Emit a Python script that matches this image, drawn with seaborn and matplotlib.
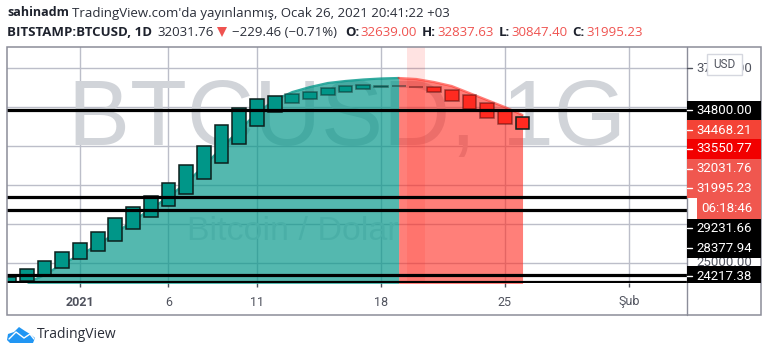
import numpy as np
import pandas as pd
import seaborn as sns
import matplotlib.pyplot as plt
from matplotlib.patches import Polygon, Rectangle, Circle

# days counted from 1 Jan 2021
days = [-4, -3, -2, -1, 0, 1, 2, 3, 4, 5, 6, 7, 8, 9, 10, 11, 12, 13, 14, 15, 16, 17, 18, 19, 20, 21, 22, 23, 24, 25]
opens = [23782, 23846, 24231, 24679, 25256, 25769, 26410, 27179, 27949, 28654, 29423, 30385, 31410, 32628, 33782,
         34680, 35256, 35513, 35769, 35962, 36154, 36300, 36320, 36310, 36282, 36090, 35769, 35256, 34808, 34359]
closes = [24103, 24615, 25128, 25705, 26282, 26987, 27885, 28590, 29295, 30128, 31282, 32500, 33846, 34936, 35513,
          35705, 35833, 35962, 36218, 36346, 36410, 36330, 36346, 36290, 35962, 35385, 34872, 34295, 33910, 33590]

area_green_days = [-3, -2, -1, 0, 1, 2, 3, 4, 5, 6, 7, 8, 9, 10, 11, 12, 13, 14, 15, 16, 17, 18]
area_green = [23718, 24231, 24936, 25513, 26154, 26923, 27692, 28461, 29231, 30128, 31218, 32372, 33526, 34615,
              35448, 35961, 36282, 36538, 36667, 36762, 36827, 36859]
area_red_days = [18, 19, 20, 21, 22, 23, 24, 25]
area_red = [36859, 36795, 36602, 36346, 35897, 35448, 34999, 34487]

level_lines = [34800.00, 29231.66, 28377.94, 24217.38, 23790]
grid_prices = [25000, 27500, 30000, 32500, 35000, 37500]
x_ticks = [0, 5, 10, 17, 24, 31]
x_labels = ['2021', '6', '11', '18', '25', 'Şub']

tag_labels = ['34800.00', '34468.21', '33550.77', '32031.76', '31995.23', '06:18:46',
              '29231.66', '28377.94', '24217.38']

GREEN = '#009688'
RED = '#ff2a20'
GRID = '#bcbec9'
FRAME = '#8b8d99'

sns.set_style('white')
plt.rcParams['font.family'] = ['Open Sans', 'DejaVu Sans']

fig = plt.figure(figsize=(7.68, 3.55), dpi=100)
ax = fig.add_axes([7 / 768, 1 - 283 / 355, 680 / 768, 236 / 355])
over = fig.add_axes([0, 0, 1, 1], zorder=5)
over.set_xlim(0, 768)
over.set_ylim(355, 0)
over.axis('off')
over.patch.set_alpha(0)

ax.set_xlim(-4.12, 34.29)
ax.set_ylim(23718, 38846)
ax.set_yticks(grid_prices)
ax.set_xticks(x_ticks)
ax.set_xticklabels(x_labels, fontsize=9, color='#50535e', family='Roboto')
ax.get_xticklabels()[0].set_fontweight('bold')
ax.set_yticklabels([])
ax.tick_params(axis='x', length=3, width=1, color='#50535e', pad=6, bottom=True)
ax.grid(True, color=GRID, lw=1)
ax.set_axisbelow(True)
for s in ax.spines.values():
    s.set_visible(False)

# watermarks
ax.text(0.5, 0.685, 'BTCUSD, 1G', transform=ax.transAxes, ha='center', va='center', fontsize=67,
        color='#d1d4d9', family='Liberation Sans', zorder=1)
ax.text(0.42, 0.22, 'Bitcoin / Dolar', transform=ax.transAxes, ha='center', va='center', fontsize=24.5,
        color='#e2e4e8', family='Liberation Sans', zorder=1)
ax.axvspan(18.5, 19.5, color=RED, alpha=0.13, lw=0, zorder=1.5)

# area under the curve
ax.fill_between(area_green_days, area_green, 23000, color=GREEN, alpha=0.67, lw=0, zorder=2)
ax.fill_between(area_red_days, area_red, 23000, color=RED, alpha=0.6, lw=0, zorder=2)
sns.lineplot(x=area_green_days, y=area_green, color=GREEN, lw=1.6, alpha=0.8, ax=ax, zorder=2.1)
sns.lineplot(x=area_red_days, y=area_red, color=RED, lw=1.6, alpha=0.6, ax=ax, zorder=2.1)

# candles
df = pd.DataFrame({'day': days, 'open': opens, 'close': closes})
df['low'] = df[['open', 'close']].min(axis=1)
df['height'] = (df['close'] - df['open']).abs()
df['up'] = df['close'] >= df['open']
for is_up, color in [(True, GREEN), (False, RED)]:
    part = df[df['up'] == is_up]
    before = len(ax.patches)
    sns.barplot(data=part, x='day', y='height', bottom=part['low'].values, native_scale=True, width=0.78,
                color=color, saturation=1, edgecolor='#0c1f1c', linewidth=1.1, ax=ax, zorder=3,
                errorbar=None)
    for patch, day in zip(ax.patches[before:], part['day']):
        if 12 <= day <= 24:
            patch.set_edgecolor((0.05, 0.15, 0.14, 0.55) if is_up else (0.3, 0.05, 0.05, 0.55))
ax.set_xlabel('')
ax.set_ylabel('')
ax.set_xlim(-4.12, 34.29)
ax.set_ylim(23718, 38846)

for price in level_lines:
    ax.axhline(price, color='black', lw=2.3, zorder=4)

# frame
over.add_patch(Rectangle((7, 47), 754, 268, fill=False, ec=FRAME, lw=1.1))
over.plot([687, 687], [47, 315], color=FRAME, lw=1)

# price scale
over.text(724, 68, '37500.00', ha='center', va='center', fontsize=9.5, color='#50535e', family='Roboto')
over.text(724, 262, '25000.00', ha='center', va='center', fontsize=9.5, color='#50535e', family='Roboto')
over.plot([687, 692], [68, 68], color='#50535e', lw=1)
over.add_patch(Rectangle((707, 54), 35, 21, fc='white', ec='#d5d7df', lw=1, zorder=6))
over.text(724.5, 64.5, 'USD', ha='center', va='center', fontsize=8.5, color='#50535e', family='Roboto', zorder=7)

tag_boxes = [(687, 101, 19, '#000000'), (687, 120, 19, '#f44336'), (687, 139, 20, '#f20000'), (687, 159, 39, '#f0574f'),
             (697, 198, 21, '#f0574f'), (687, 219, 39, '#000000'), (687, 266, 17, '#000000')]
for x0, y0, h, c in tag_boxes:
    over.add_patch(Rectangle((x0, y0), 761 - x0, h, fc=c, ec='none', zorder=3))
tag_ys = [110, 130, 149, 169, 188, 209, 228, 248, 276]
for label, y in zip(tag_labels, tag_ys):
    over.text(724 if label != '06:18:46' else 727, y, label, ha='center', va='center', fontsize=9.5, color='white',
              family='Roboto', zorder=4)
    if label != '06:18:46':
        over.plot([687, 692], [y, y], color='white', lw=1, zorder=4)

# header
over.text(7, 13, 'sahinadm', fontsize=9, fontweight='bold', va='center', color='#1e222d')
over.text(72, 13, "TradingView.com'da yayınlanmış, Ocak 26, 2021 20:41:22 +03", fontsize=9.55, va='center', color='#2a2e39')
over.text(7, 32, 'BITSTAMP:BTCUSD, 1D', fontsize=9.5, fontweight='bold', va='center', color='#1e222d')
over.text(157, 32, '32031.76', fontsize=9.5, va='center', color='#2a2e39')
over.add_patch(Polygon([(217, 27), (227, 27), (222, 37)], fc='#ef5350', ec='none'))
over.text(232, 32, '−229.46 (−0.71%)', fontsize=9.5, va='center', color='#2a2e39')
for x_name, name, x_val, val in [(345, 'O:', 360, '32639.00'), (422, 'H:', 437, '32837.63'),
                                 (499, 'L:', 511, '30847.40'), (572, 'C:', 586, '31995.23')]:
    over.text(x_name, 32, name, fontsize=9.5, fontweight='bold', va='center', color='#1e222d')
    over.text(x_val, 32, val, fontsize=9.5, va='center', color='#ef5350')

# logo
blue = '#2196f3'
over.add_patch(Polygon([(7, 340), (8, 334), (14, 332), (19, 327), (25, 331), (30, 334), (35, 338), (33, 343), (10, 343)],
                       fc=blue, ec='none'))
over.plot([9, 16, 24, 30, 34], [339, 332, 338, 334, 339], color='white', lw=1)
over.text(37, 335, 'TradingView', fontsize=10, va='center', color='#2a2e39')

fig.savefig('out.png', dpi=100)
